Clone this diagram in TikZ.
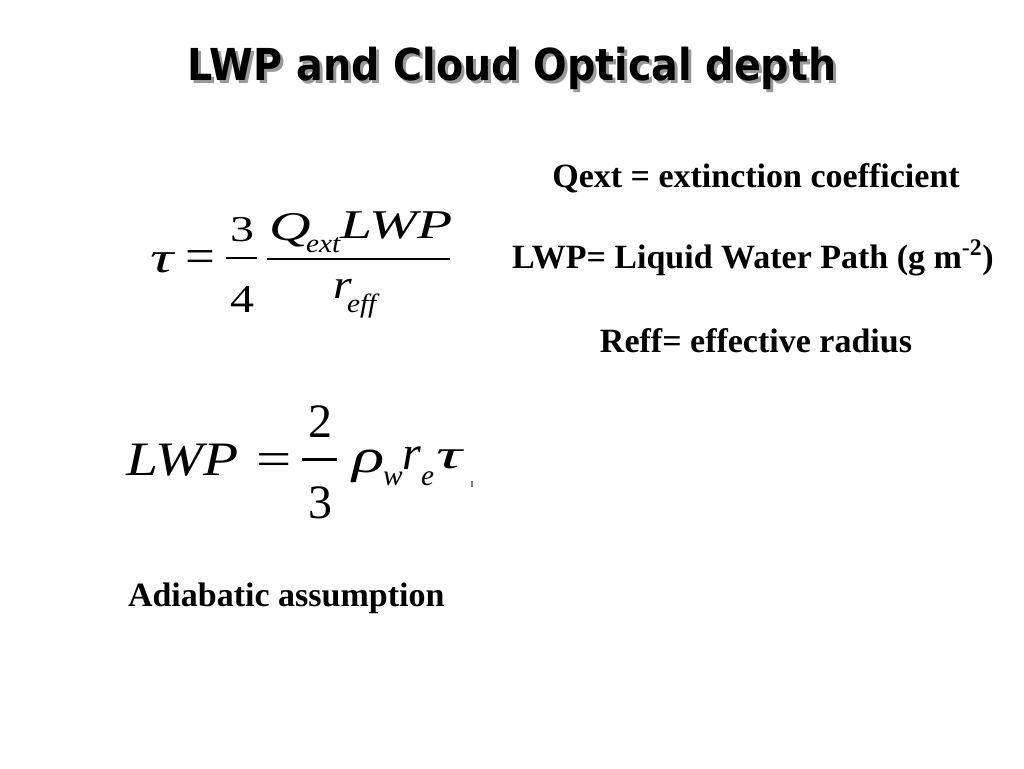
\documentclass[tikz,border=0pt]{standalone}
\usepackage{graphicx}
\usepackage{fontspec}
\setmainfont{Liberation Serif}
\newfontfamily\titlefont{DejaVu Sans}
\newcommand{\sq}[3]{\scalebox{#1}[#2]{#3}}
\begin{document}
\begin{tikzpicture}[x=0.75pt,y=-0.75pt,
  every node/.style={inner sep=0pt,outer sep=0pt},
  titletext/.style={font=\titlefont\bfseries\fontsize{33}{38}\selectfont,anchor=base},
  bodytext/.style={font=\bfseries\fontsize{25.5}{30}\selectfont,anchor=base},
  eqa/.style={font=\fontsize{36}{40}\selectfont,anchor=base west},
  eqasub/.style={font=\fontsize{22}{26}\selectfont\itshape,anchor=base west},
  eqb/.style={font=\fontsize{36}{40}\selectfont,anchor=base west},
  eqbsub/.style={font=\fontsize{22}{26}\selectfont\itshape,anchor=base west},
  fracbar/.style={line width=1.6pt}]
\useasboundingbox (0,0) rectangle (1024,768);
\fill[white] (0,0) rectangle (1024,768);
% title with shadow
\node[titletext,text=black!40] (titleshadow) at (515,83) {\sq{0.9}{1}{LWP and Cloud Optical depth}};
\node[titletext] (title) at (512,80) {\sq{0.9}{1}{LWP and Cloud Optical depth}};
% definitions
\node[bodytext] (qext) at (756,187) {Qext = extinction coefficient};
\node[bodytext] (lwpdef) at (753,268) {LWP= Liquid Water Path (g m\textsuperscript{-2})};
\node[bodytext] (reff) at (756,352) {Reff= effective radius};
\node[bodytext,anchor=base west] (adiab) at (128,606) {Adiabatic assumption};
% equation 1
\node[eqa] (tau1) at (150,272) {\sq{1.35}{0.9}{\itshape τ}};
\node[eqa] (eq1) at (185,272) {\sq{1.1}{1}{=}};
\coordinate (b1l) at (226,258);
\coordinate (b1r) at (257,258);
\draw[fracbar] (b1l) -- (b1r);
\node[eqa,anchor=base] (three1) at (242,241) {\sq{1}{0.76}{3}};
\node[eqa,anchor=base] (four1) at (242,312) {\sq{1}{0.82}{4}};
\node[eqa] (Q1) at (269,240) {\sq{1.2}{0.85}{\itshape Q}};
\node[eqasub] (ext1) at (306,252) {\sq{1}{0.9}{ext}};
\node[eqa] (lwp1) at (340,238) {\sq{1.2}{0.85}{\itshape LWP}};
\coordinate (b2l) at (267,259);
\coordinate (b2r) at (450,259);
\draw[fracbar] (b2l) -- (b2r);
\node[eqa] (r1) at (333,298) {\sq{1}{0.85}{\itshape r}};
\node[eqasub] (eff1) at (347,312) {\sq{1}{0.9}{eff}};
% equation 2
\node[eqb] (lwp2) at (126,475) {\sq{1.2}{1}{\itshape LWP}};
\node[eqb] (eq2) at (256,475) {\sq{1.3}{1}{=}};
\coordinate (b3l) at (302,459.5);
\coordinate (b3r) at (337,459.5);
\draw[fracbar] (b3l) -- (b3r);
\node[eqb,anchor=base] (two2) at (320,437) {2};
\node[eqb,anchor=base] (three2) at (320,518) {3};
\node[eqb] (rho2) at (352,472) {\sq{1.4}{1}{\itshape ρ}};
\node[eqbsub] (w2) at (383,485) {w};
\node[eqb] (r2) at (402,469) {\itshape r};
\node[eqbsub] (e2) at (421,485) {e};
\node[eqb] (tau2) at (436,468) {\sq{1.5}{0.85}{\itshape τ}};
\coordinate (tickt) at (472,481);
\coordinate (tickb) at (472,487);
\draw[line width=0.8pt,black!50] (tickt) -- (tickb);
\end{tikzpicture}
\end{document}
